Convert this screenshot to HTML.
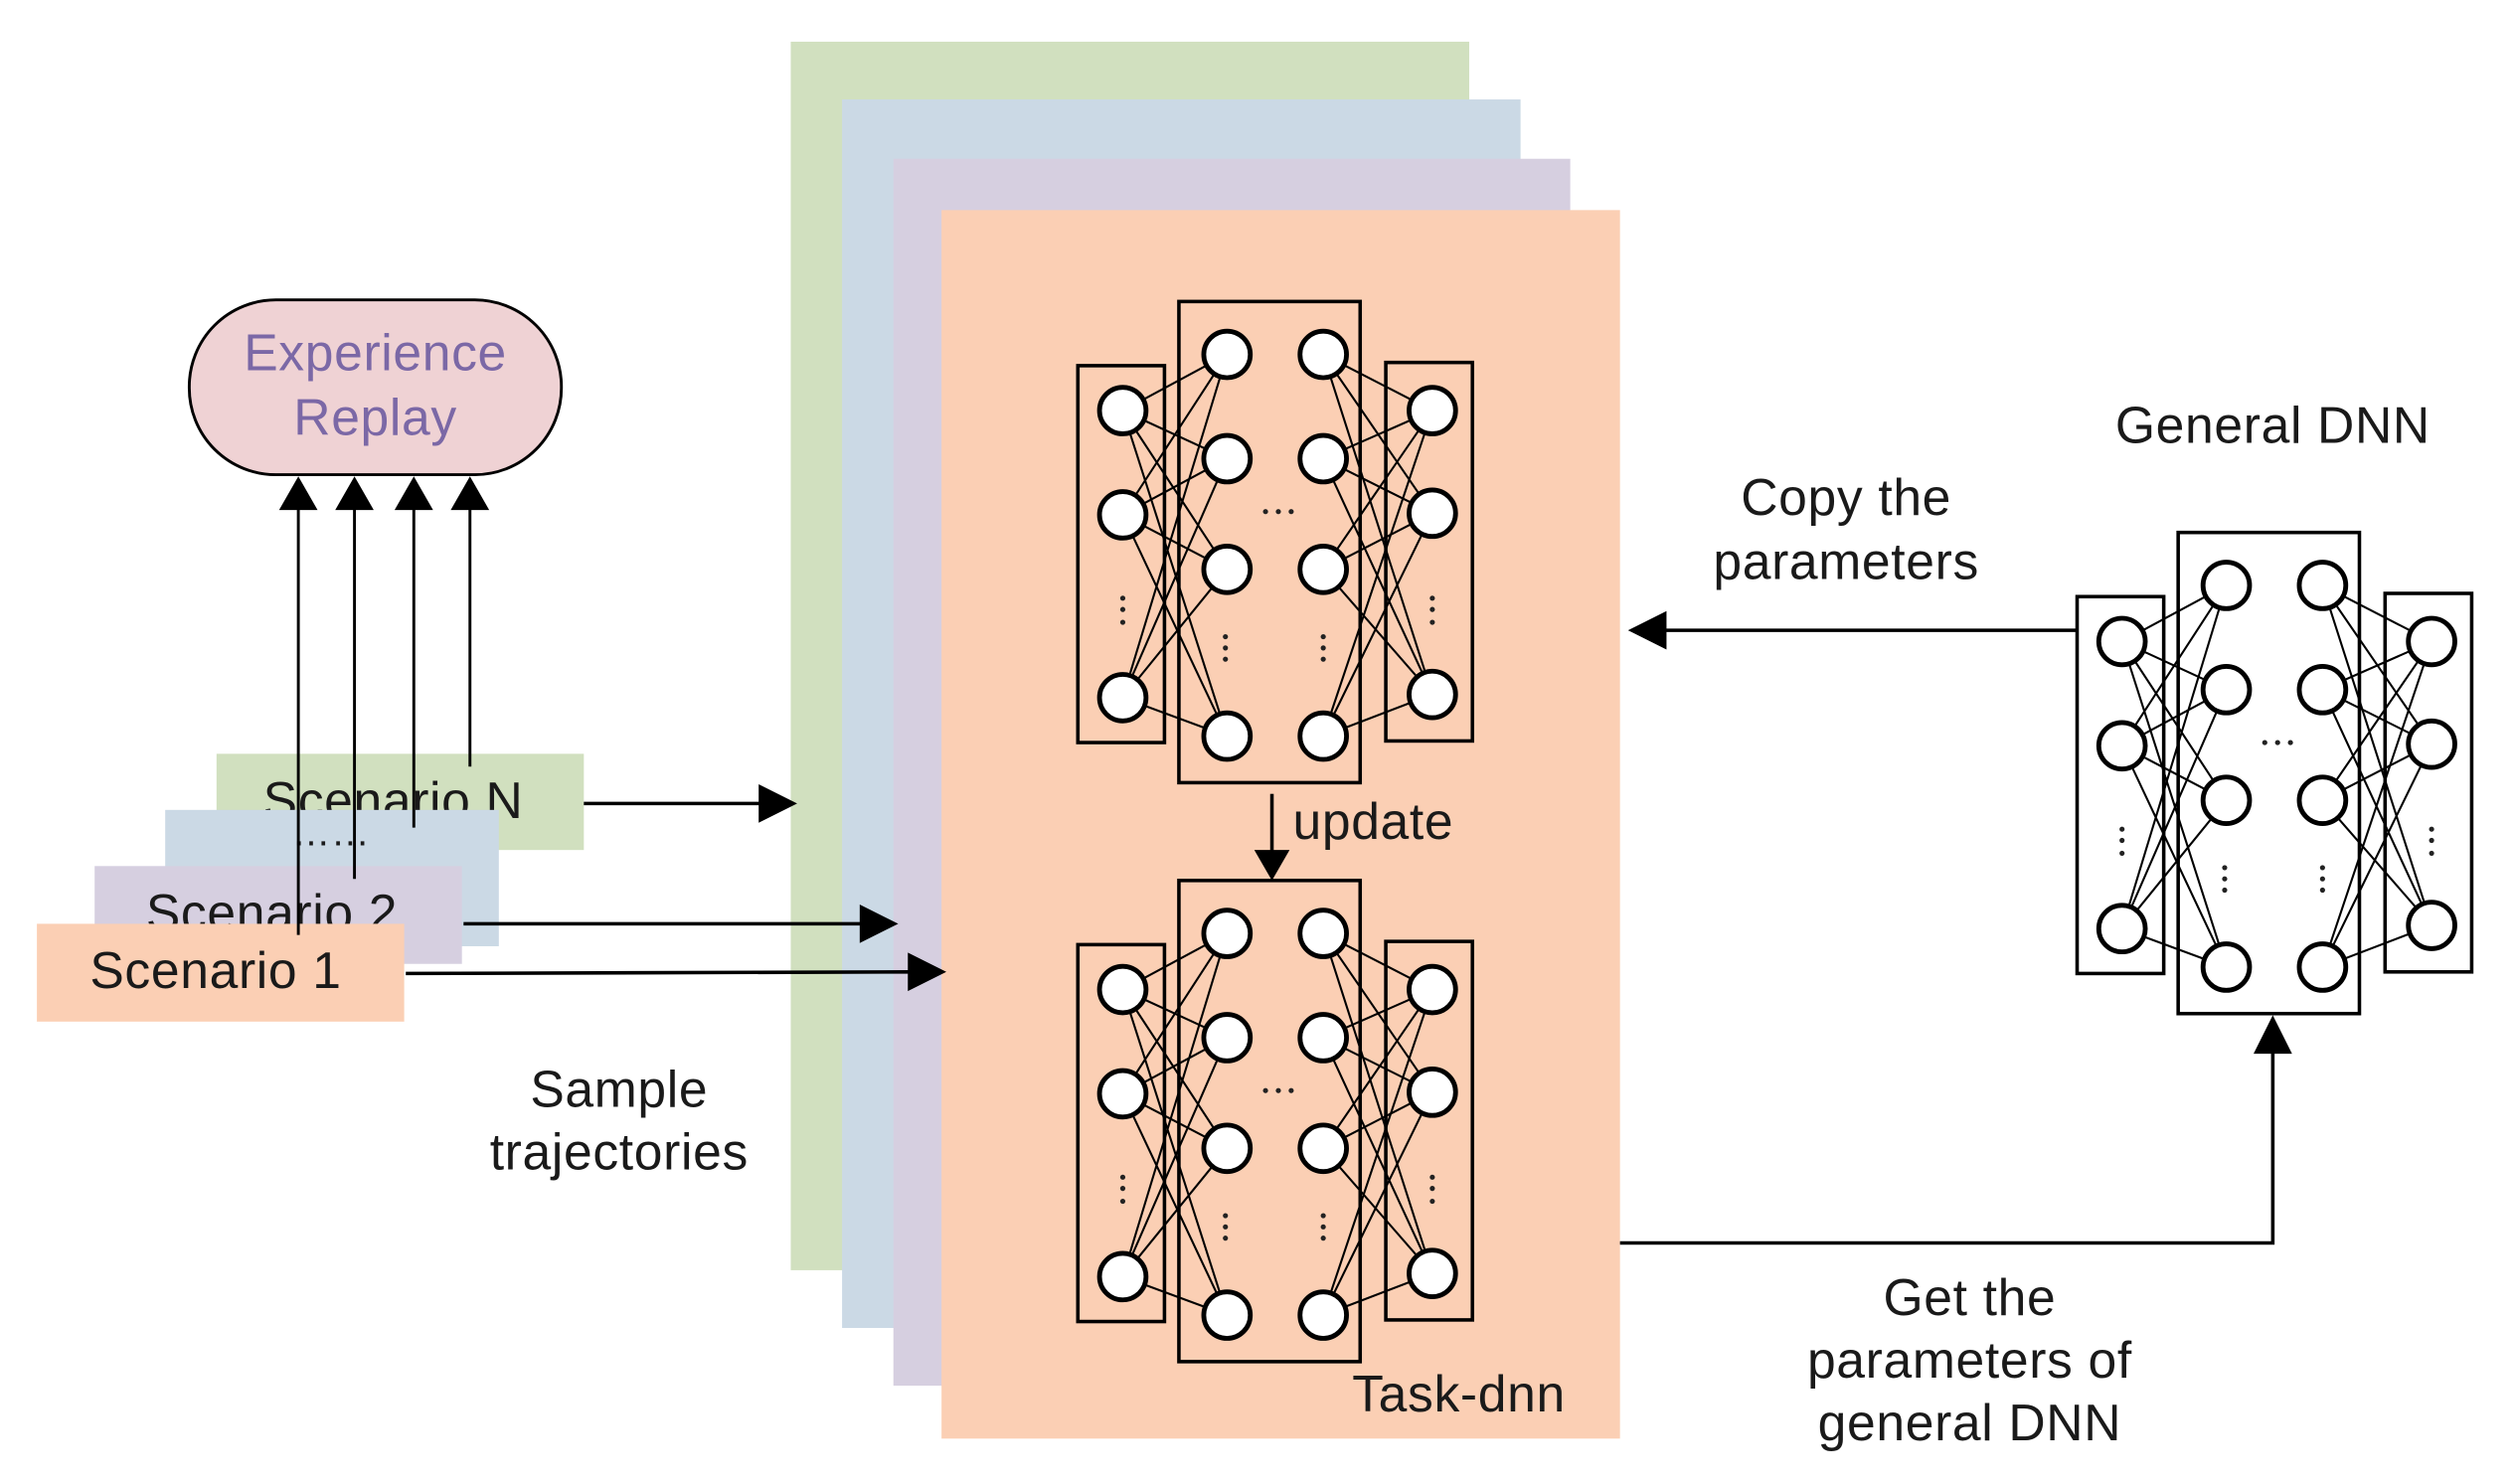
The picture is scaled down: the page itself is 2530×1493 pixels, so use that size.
<!DOCTYPE html>
<html><head><meta charset="utf-8"><style>
html,body{margin:0;padding:0;background:#fff;}
svg{display:block;}
text{font-family:"Liberation Sans","DejaVu Sans",sans-serif;fill:#1a1a1a;letter-spacing:0.4px;}
</style></head><body>
<svg width="2530" height="1493" viewBox="0 0 1568 925.3" xmlns="http://www.w3.org/2000/svg">
<defs>
<g id="net">
 <rect x="672" y="228" width="54" height="235" fill="none" stroke="#000" stroke-width="2.2"/>
 <rect x="735" y="188" width="113" height="300" fill="none" stroke="#000" stroke-width="2.2"/>
 <rect x="864" y="226" width="54" height="236" fill="none" stroke="#000" stroke-width="2.2"/>
 <g stroke="#000" stroke-width="1.3">
  <path d="M700,256L765,221M700,256L765,286M700,256L765,355M700,256L765,459M700,321L765,221M700,321L765,286M700,321L765,355M700,321L765,459M700,435L765,221M700,435L765,286M700,435L765,355M700,435L765,459"/>
  <path d="M825,221L893,256M825,221L893,320M825,221L893,433M825,286L893,256M825,286L893,320M825,286L893,433M825,355L893,256M825,355L893,320M825,355L893,433M825,459L893,256M825,459L893,320M825,459L893,433"/>
 </g>
 <g fill="#fff" stroke="#000" stroke-width="3">
  <circle cx="700" cy="256" r="14.5"/><circle cx="700" cy="321" r="14.5"/><circle cx="700" cy="435" r="14.5"/>
  <circle cx="765" cy="221" r="14.5"/><circle cx="765" cy="286" r="14.5"/><circle cx="765" cy="355" r="14.5"/><circle cx="765" cy="459" r="14.5"/>
  <circle cx="825" cy="221" r="14.5"/><circle cx="825" cy="286" r="14.5"/><circle cx="825" cy="355" r="14.5"/><circle cx="825" cy="459" r="14.5"/>
  <circle cx="893" cy="256" r="14.5"/><circle cx="893" cy="320" r="14.5"/><circle cx="893" cy="433" r="14.5"/>
 </g>
 <g fill="#222">
  <circle cx="789" cy="319" r="1.6"/><circle cx="797" cy="319" r="1.6"/><circle cx="805" cy="319" r="1.6"/>
  <circle cx="700" cy="373" r="1.6"/><circle cx="700" cy="380" r="1.6"/><circle cx="700" cy="388" r="1.6"/>
  <circle cx="893" cy="373" r="1.6"/><circle cx="893" cy="380" r="1.6"/><circle cx="893" cy="388" r="1.6"/>
  <circle cx="764" cy="397" r="1.6"/><circle cx="764" cy="404" r="1.6"/><circle cx="764" cy="411" r="1.6"/>
  <circle cx="825" cy="397" r="1.6"/><circle cx="825" cy="404" r="1.6"/><circle cx="825" cy="411" r="1.6"/>
 </g>
</g>
</defs>

<rect x="493" y="26" width="423" height="766" fill="#d1e0bf"/>
<rect x="525" y="62" width="423" height="766" fill="#cbd9e5"/>
<rect x="557" y="99" width="422" height="765" fill="#d6cfe0"/>
<rect x="587" y="131" width="423" height="766" fill="#fbcfb4"/>

<use href="#net"/>
<use href="#net" transform="translate(0,361)"/>
<use href="#net" transform="translate(623,144)"/>

<line x1="793" y1="495" x2="793" y2="532" stroke="#000" stroke-width="2.2"/>
<path d="M793,549 l-11,-19 h22z" fill="#000"/>
<text x="806" y="523" font-size="32">update</text>
<text x="843" y="880" font-size="32">Task-dnn</text>

<rect x="118" y="187" width="232" height="109" rx="54" ry="54" fill="#efd2d4" stroke="#000" stroke-width="1.8"/>
<text x="234" y="231" font-size="32" text-anchor="middle" style="fill:#7b68a6">Experience</text>
<text x="234" y="271" font-size="32" text-anchor="middle" style="fill:#7b68a6">Replay</text>

<rect x="135" y="470" width="229" height="60" fill="#d1e0bf"/>
<text x="164" y="510" font-size="32">Scenario N</text>
<rect x="103" y="505" width="208" height="85" fill="#cbd9e5"/>
<text x="182" y="527" font-size="24" letter-spacing="1">……</text>
<rect x="59" y="540" width="229" height="61" fill="#d6cfe0"/>
<text x="91" y="580" font-size="32">Scenario 2</text>
<rect x="23" y="576" width="229" height="61" fill="#fbcfb4"/>
<text x="56" y="616" font-size="32">Scenario 1</text>

<g stroke="#000" stroke-width="1.8">
 <line x1="186" y1="583" x2="186" y2="310"/>
 <line x1="221" y1="548" x2="221" y2="310"/>
 <line x1="258" y1="516" x2="258" y2="310"/>
 <line x1="293" y1="478" x2="293" y2="310"/>
</g>
<path d="M186,297 l-12,21 h24z M221,297 l-12,21 h24z M258,297 l-12,21 h24z M293,297 l-12,21 h24z" fill="#000"/>

<g stroke="#000" stroke-width="2.2">
 <line x1="364" y1="501" x2="475" y2="501"/>
 <line x1="289" y1="576" x2="538" y2="576"/>
 <line x1="253" y1="607" x2="568" y2="606"/>
</g>
<path d="M497,501 l-24,-12 v24z M560,576 l-24,-12 v24z M590,606 l-24,-12 v24z" fill="#000"/>

<text x="386" y="690" font-size="32" text-anchor="middle">Sample</text>
<text x="386" y="729" font-size="32" text-anchor="middle">trajectories</text>

<line x1="1295" y1="393" x2="1038" y2="393" stroke="#000" stroke-width="2.2"/>
<path d="M1015,393 l24,-12 v24z" fill="#000"/>
<text x="1151" y="321" font-size="32" text-anchor="middle">Copy the</text>
<text x="1151" y="361" font-size="32" text-anchor="middle">parameters</text>
<text x="1417" y="276" font-size="32" text-anchor="middle">General DNN</text>

<polyline points="1010,775 1417,775 1417,655" fill="none" stroke="#000" stroke-width="2.2"/>
<path d="M1417,633 l-12,24 h24z" fill="#000"/>
<text x="1228" y="820" font-size="32" text-anchor="middle">Get the</text>
<text x="1228" y="859" font-size="32" text-anchor="middle">parameters of</text>
<text x="1228" y="898" font-size="32" text-anchor="middle">general DNN</text>
</svg>
</body></html>
